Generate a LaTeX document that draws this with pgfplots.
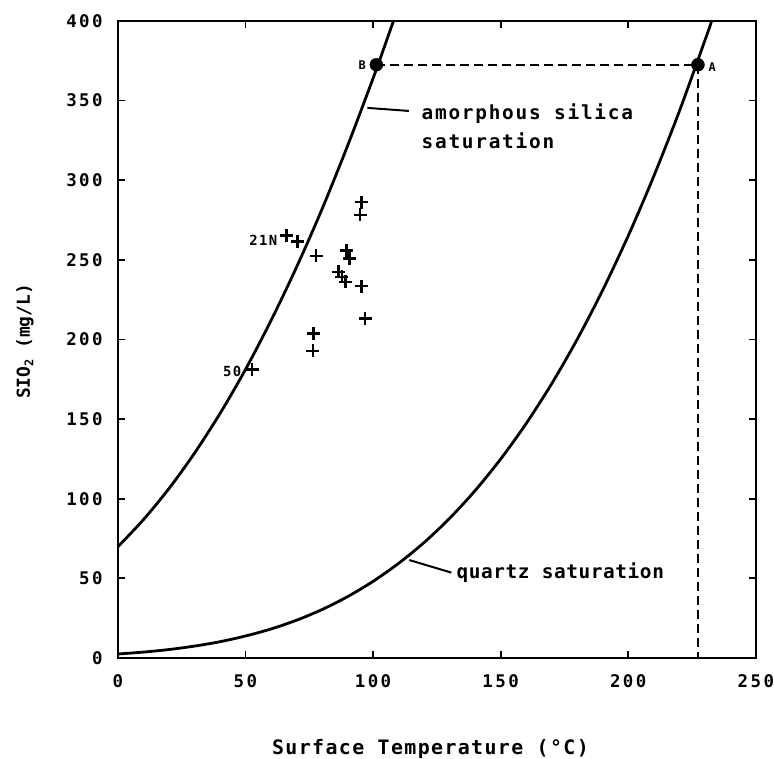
\documentclass[border=0pt]{standalone}
\usepackage{fontspec}
\usepackage{pgfplots}
\pgfplotsset{compat=1.18}
\newfontfamily\fA[LetterSpace=14]{DejaVu Sans Mono Bold}
\newfontfamily\fB[LetterSpace=7]{DejaVu Sans Mono Bold}
\newfontfamily\fC[LetterSpace=9]{DejaVu Sans Mono Bold}
\newfontfamily\fD[LetterSpace=3]{DejaVu Sans Mono Bold}
\newfontfamily\fE{DejaVu Sans Mono Bold}
\newfontfamily\fF[LetterSpace=10]{DejaVu Sans Mono Bold}
\begin{document}
\begin{tikzpicture}
\begin{axis}[
  scale only axis, width=639bp, height=638bp,
  xmin=0, xmax=250, ymin=0, ymax=400,
  xtick={0,50,...,250}, ytick={0,50,...,400},
  tick align=inside, major tick length=7bp,
  every tick/.style={line width=1.8bp, black},
  axis line style={line width=1.8bp},
  /pgf/number format/assume math mode=true,
  ticklabel style={font=\fA\fontsize{17.5}{17.5}\selectfont, inner sep=0pt},
  xticklabel style={anchor=north, yshift=-16bp},
  yticklabel style={anchor=east, xshift=-15bp},
  clip=false,
]
% amorphous silica saturation
\addplot[black, line width=2.8bp, smooth] coordinates {
(0,69.8) (10,86.8) (20,106.3) (30,128.5) (40,153.4) (50,181.1) (60,211.8)
(70,245.3) (80,281.8) (90,321.5) (100,363.9) (105,386.3) (108,400)};
% quartz saturation
\addplot[black, line width=2.8bp, smooth] coordinates {
(0,2.5) (10,3.69) (20,5.30) (30,7.45) (40,10.2) (50,13.8) (60,18.2) (70,23.7)
(80,30.4) (90,38.5) (100,48.1) (110,59.4) (120,72.5) (130,87.7) (140,105.1)
(150,124.9) (160,147.2) (170,172.2) (180,200.1) (190,231.0) (200,265.1)
(210,302.5) (220,343.2) (230,387.6) (232.7,400)};
% dashed construction lines
\addplot[black, line width=2bp, dash pattern=on 9bp off 5bp] coordinates {
(101.3,372.5) (227.3,372.5) (227.3,0)};
% points A and B
\addplot[only marks, mark=*, mark size=6.5bp, black] coordinates {(101.3,372.5) (227.3,372.5)};
% samples
\addplot[only marks, mark=+, mark size=6.5bp, black, mark options={line width=2.6bp}] coordinates {
(66.0,265.4) (70.4,261.7) (77.7,252.5) (95.4,286.3) (94.9,278.2) (89.7,256.0)
(90.7,250.8) (86.4,242.4) (87.8,239.3) (89.1,236.2) (95.4,233.5) (96.9,213.3)
(76.7,203.9) (76.4,192.8) (52.6,181.3)};
% pointer lines
\addplot[black, line width=2bp] coordinates {(97.8,345.4) (114.1,343.5)};
\addplot[black, line width=2bp] coordinates {(114.2,61.5) (130.7,53.6)};
% texts
\node[anchor=west, inner sep=0pt, font=\fC\fontsize{19.5}{19.5}\selectfont] at (axis cs:119,342) {amorphous silica};
\node[anchor=west, inner sep=0pt, font=\fC\fontsize{19.5}{19.5}\selectfont] at (axis cs:119,325) {saturation};
\node[anchor=west, inner sep=0pt, font=\fD\fontsize{19.5}{19.5}\selectfont] at (axis cs:132.7,53.6) {quartz saturation};
\node[inner sep=0pt, font=\fE\fontsize{12}{12}\selectfont] at (axis cs:95.8,372.5) {B};
\node[inner sep=0pt, font=\fE\fontsize{12}{12}\selectfont] at (axis cs:232.9,371) {A};
\node[anchor=east, inner sep=0pt, font=\fF\fontsize{14}{14}\selectfont] at (axis cs:62.6,262.3) {21N};
\node[anchor=east, inner sep=0pt, font=\fF\fontsize{14}{14}\selectfont] at (axis cs:48.5,180.1) {50};
\node[inner sep=0pt, font=\fB\fontsize{20}{20}\selectfont] at (rel axis cs:0.49,-0.1426) {Surface Temperature (°C)};
\node[inner sep=0pt, rotate=90, font=\fE\fontsize{18}{18}\selectfont] at (rel axis cs:-0.1455,0.497) {SIO\raisebox{-0.35ex}{\fontsize{12}{12}\selectfont 2} (mg/L)};
\path (rel axis cs:-0.18466,-0.15831) rectangle (rel axis cs:1.0266,1.03292);
\end{axis}
\end{tikzpicture}
\end{document}
